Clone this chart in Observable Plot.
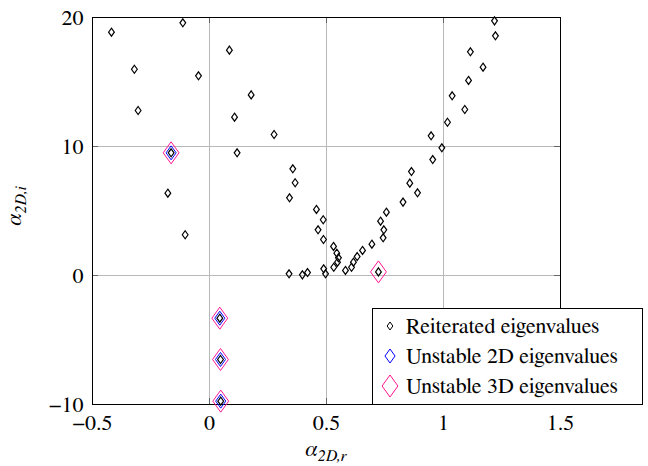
<!DOCTYPE html>
<html>
<head>
<meta charset="utf-8">
<script src="https://cdn.jsdelivr.net/npm/d3@7"></script>
<script src="https://cdn.jsdelivr.net/npm/@observablehq/plot@0.6"></script>
<style>
  html, body { margin: 0; padding: 0; background: #fff; }
  #wrap { position: relative; width: 648px; height: 466px; }
  #legend { position: absolute; left: 372px; top: 308px; width: 271px; height: 97px;
            border: 1px solid #000; background: #fff; box-sizing: border-box; }
  .row { position: absolute; left: 0; height: 30px; display: flex; align-items: center; white-space: nowrap; }
  .row svg { width: 33px; height: 30px; flex: none; }
</style>
</head>
<body>
<div id="wrap"></div>
<script>
// Reiterated eigenvalues (real part, imaginary part)
const reX = [-0.419, -0.114, -0.321, -0.047, -0.305, 0.085, 0.178, 0.107, 0.276, 0.118, -0.178, -0.104,
  -0.164, 0.044, 0.047, 0.048,
  0.356, 0.366, 0.342, 0.457, 0.486, 0.464, 0.487, 0.530, 0.544, 0.551, 0.547, 0.531, 0.488, 0.496,
  0.340, 0.397, 0.419, 0.581, 0.607, 0.615, 0.631, 0.654, 0.694, 0.722, 0.742, 0.745, 0.731, 0.756,
  0.827, 0.889, 0.856, 0.863, 0.954, 0.993, 0.947, 1.017, 1.037, 1.091, 1.107, 1.169, 1.115, 1.222, 1.218];
const reY = [18.86, 19.59, 15.99, 15.48, 12.79, 17.47, 14.0, 12.27, 10.93, 9.51, 6.38, 3.16,
  9.51, -3.31, -6.51, -9.74,
  8.27, 7.19, 6.02, 5.12, 4.32, 3.54, 2.79, 2.25, 1.73, 1.37, 1.03, 0.64, 0.52, 0.13,
  0.13, 0.05, 0.23, 0.39, 0.64, 1.03, 1.47, 1.94, 2.43, 0.28, 2.92, 3.54, 4.21, 4.91,
  5.69, 6.41, 7.16, 8.06, 8.99, 9.9, 10.83, 11.88, 13.93, 12.87, 15.12, 16.15, 17.34, 18.58, 19.74];
// Unstable 2D eigenvalues
const u2X = [-0.164, 0.044, 0.047, 0.048];
const u2Y = [9.51, -3.31, -6.51, -9.74];
// Unstable 3D eigenvalues
const u3X = [-0.164, 0.044, 0.047, 0.048, 0.722];
const u3Y = [9.51, -3.31, -6.51, -9.74, 0.28];

const xTicks = [-0.5, 0, 0.5, 1, 1.5];
const yTicks = [-10, 0, 10, 20];
const legendLabels = ["Reiterated eigenvalues", "Unstable 2D eigenvalues", "Unstable 3D eigenvalues"];
const colors = ["#000000", "#0000ff", "#ff1493"];
const radii = [4, 7, 11];

const fmt = d => String(d).replace("-", "\u2212");
const FAM = "'FreeSerif', 'Times New Roman', Tinos, 'Liberation Serif', serif";
const TXT = `font-family:${FAM};font-size:22px`;

const tallDiamond = {
  draw(ctx, size) {
    const r = Math.sqrt(size / Math.PI);
    const w = r * 0.72;
    ctx.moveTo(0, -r); ctx.lineTo(w, 0); ctx.lineTo(0, r); ctx.lineTo(-w, 0); ctx.closePath();
  }
};

const re = reX.map((x, i) => ({x, y: reY[i]}));
const u2 = u2X.map((x, i) => ({x, y: u2Y[i]}));
const u3 = u3X.map((x, i) => ({x, y: u3Y[i]}));

const W = 648, H = 466, mL = 92, mR = 88, mT = 17, mB = 62;
const fw = W - mL - mR, fh = H - mT - mB;
const tick = 6;

const plot = Plot.plot({
  width: W, height: H,
  marginLeft: mL, marginRight: mR, marginTop: mT, marginBottom: mB,
  style: {color: "#000", background: "#fff"},
  x: {domain: [-0.5, 1.5]},
  y: {domain: [-10, 20]},
  marks: [
    Plot.ruleX(xTicks, {stroke: "#b8b8b8", strokeWidth: 1}),
    Plot.ruleY(yTicks, {stroke: "#b8b8b8", strokeWidth: 1}),
    Plot.ruleX(xTicks, {stroke: "#666", insetTop: fh - tick}),
    Plot.ruleX(xTicks, {stroke: "#666", insetBottom: fh - tick}),
    Plot.ruleY(yTicks, {stroke: "#666", insetRight: fw - tick}),
    Plot.ruleY(yTicks, {stroke: "#666", insetLeft: fw - tick}),
    Plot.frame({stroke: "#000", strokeWidth: 1}),
    Plot.axisX(xTicks, {anchor: "bottom", tickSize: 0, tickPadding: 10, label: null, fontSize: 22, tickFormat: fmt}),
    Plot.axisY(yTicks, {anchor: "left", tickSize: 0, tickPadding: 9, label: null, fontSize: 22, tickFormat: fmt}),
    Plot.dot(u3, {x: "x", y: "y", symbol: tallDiamond, r: radii[2], stroke: colors[2], fill: "none", strokeWidth: 1}),
    Plot.dot(u2, {x: "x", y: "y", symbol: tallDiamond, r: radii[1], stroke: colors[1], fill: "none", strokeWidth: 1}),
    Plot.dot(re, {x: "x", y: "y", symbol: tallDiamond, r: radii[0], stroke: colors[0], fill: "none", strokeWidth: 1.2})
  ]
});

const wrap = document.getElementById("wrap");
wrap.appendChild(plot);

const svg = d3.select(plot);
svg.selectAll("text").attr("style", TXT);

// axis titles with subscripts
const xt = svg.append("text")
  .attr("x", 326).attr("y", 456)
  .attr("text-anchor", "middle")
  .attr("style", `font-family:${FAM};font-size:22px;font-style:italic`)
  .attr("fill", "#000");
xt.append("tspan").text("α");
xt.append("tspan").attr("dy", 5).attr("style", "font-size:16px").text("2D,r");

const yt = svg.append("text")
  .attr("transform", "translate(21,206) rotate(-90)")
  .attr("text-anchor", "middle")
  .attr("style", `font-family:${FAM};font-size:22px;font-style:italic`)
  .attr("fill", "#000");
yt.append("tspan").text("α");
yt.append("tspan").attr("dy", 5).attr("style", "font-size:16px").text("2D,i");

// legend
const leg = document.createElement("div");
leg.id = "legend";
legendLabels.forEach((lab, i) => {
  const row = document.createElement("div");
  row.className = "row";
  row.style.top = (2 + i * 30) + "px";
  const r = radii[i], w = r * 0.72;
  row.innerHTML = `<svg viewBox="0 0 33 30"><path d="M17,${15 - r}L${17 + w},15L17,${15 + r}L${17 - w},15Z" fill="none" stroke="${colors[i]}" stroke-width="1"/></svg><span></span>`;
  const span = row.querySelector("span");
  span.setAttribute("style", TXT);
  span.textContent = lab;
  leg.appendChild(row);
});
wrap.appendChild(leg);
</script>
</body>
</html>
